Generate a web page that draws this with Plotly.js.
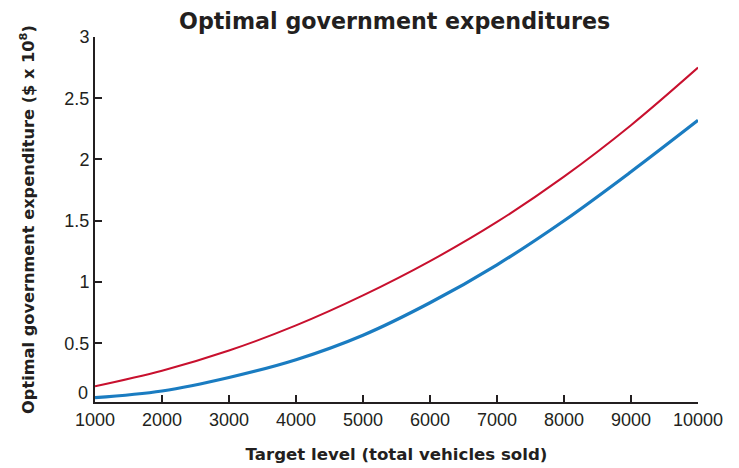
<!DOCTYPE html>
<html>
<head>
<meta charset="utf-8">
<script src="https://cdn.plot.ly/plotly-3.0.1.min.js"></script>
<style>html,body{margin:0;padding:0;background:#fff;}#chart{width:739px;height:468px;}</style>
</head>
<body>
<div id="chart"></div>
<script>
const targetLevels = [1000, 2000, 3000, 4000, 5000, 6000, 7000, 8000, 9000, 10000];
const upperSeries = [0.148, 0.275, 0.44, 0.645, 0.89, 1.17, 1.49, 1.86, 2.28, 2.75];
const lowerSeries = [0.055, 0.11, 0.22, 0.365, 0.565, 0.83, 1.14, 1.5, 1.9, 2.32];
const xTicks = [1000, 2000, 3000, 4000, 5000, 6000, 7000, 8000, 9000, 10000];
const yTicks = [0.5, 1, 1.5, 2, 2.5, 3];
const yTickLabels = ['0.5', '1', '1.5', '2', '2.5', '3'];

const textColor = '#231f20';
const tickFont = {family: 'Liberation Sans Narrow, Arial Narrow, Liberation Sans, Arial, sans-serif', size: 18, color: textColor};
const boldFont = 'DejaVu Sans, Verdana, sans-serif';

const traces = [
  {x: targetLevels, y: upperSeries, mode: 'lines', line: {color: '#c8102e', width: 2, shape: 'spline'}, hoverinfo: 'skip'},
  {x: targetLevels, y: lowerSeries, mode: 'lines', line: {color: '#1a7cc1', width: 3.2, shape: 'spline'}, hoverinfo: 'skip'}
];

const layout = {
  width: 739, height: 468,
  margin: {l: 95, r: 41, t: 37, b: 66},
  paper_bgcolor: '#fff', plot_bgcolor: '#fff',
  showlegend: false,
  title: {text: 'Optimal government expenditures', x: 0.534, xanchor: 'center', y: 0.955, yanchor: 'middle',
          font: {family: boldFont, size: 22.2, color: textColor, weight: 'bold'}},
  xaxis: {
    range: [1000, 10000], tickvals: xTicks, ticktext: xTicks.map(String),
    showgrid: false, zeroline: false, showline: true, linecolor: textColor, linewidth: 2,
    ticks: 'inside', ticklen: 7, tickwidth: 2, tickcolor: textColor, tickfont: tickFont,
    title: {text: 'Target level (total vehicles sold)', standoff: 20,
            font: {family: boldFont, size: 16.6, color: textColor, weight: 'bold'}}
  },
  yaxis: {
    range: [0.02, 3], tickvals: yTicks, ticktext: yTickLabels,
    showgrid: false, zeroline: false, showline: true, linecolor: textColor, linewidth: 2,
    ticks: 'inside', ticklen: 7, tickwidth: 2, tickcolor: textColor, tickfont: tickFont,
    title: {text: 'Optimal government expenditure ($ x 10<sup>8</sup>)', standoff: 26,
            font: {family: boldFont, size: 16.2, color: textColor, weight: 'bold'}}
  },
  annotations: [
    {xref: 'paper', yref: 'y', x: 0, y: 0.09, xanchor: 'right', yanchor: 'middle', xshift: -5,
     text: '0', showarrow: false, font: tickFont}
  ]
};

Plotly.newPlot('chart', traces, layout, {staticPlot: true, displayModeBar: false});
</script>
</body>
</html>
